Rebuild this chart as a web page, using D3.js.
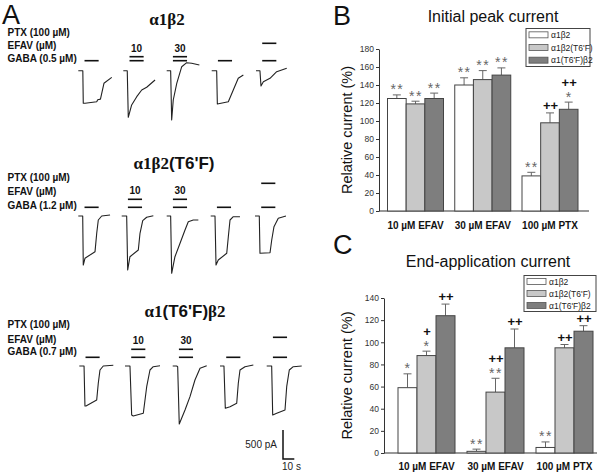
<!DOCTYPE html>
<html><head><meta charset="utf-8">
<script src="https://cdn.jsdelivr.net/npm/d3@7"></script>
<style>
html,body{margin:0;padding:0;background:#fff;}
svg{display:block;}
text{font-family:"Liberation Sans",Arial,sans-serif;}
</style></head><body>
<svg id="c" width="600" height="476"></svg>
<script>
// ---------- DATA ----------
const groups = ["10 µM EFAV", "30 µM EFAV", "100 µM PTX"];
const series = ["α1β2", "α1β2(T6'F)", "α1(T6'F)β2"];
const seriesFill = ["#ffffff", "#c8c8c8", "#7e7e7e"];
const peakTicks = [0, 20, 40, 60, 80, 100, 120, 140, 160, 180];
const peakMean = [[125, 119, 125], [140, 146, 151], [39, 98, 113]];
const peakSem  = [[4, 3, 6], [8, 10, 8], [4, 11, 8]];
const peakSig  = [[["**"], ["**"], ["**"]], [["**"], ["**"], ["**"]], [["**"], ["++"], ["++", "*"]]];
const endTicks = [0, 20, 40, 60, 80, 100, 120, 140];
const endMean  = [[59, 88, 124], [1.5, 55, 95], [5, 95, 110]];
const endSem   = [[12.5, 4, 10.5], [2, 12.5, 17], [5, 3, 5]];
const endSig   = [[["*"], ["+", "*"], ["++"]], [["**"], ["++", "**"], ["++"]], [["**"], ["++"], ["++"]]];

// Panel A : current traces, [time (s), current (pA)]
const rowTitles = [
  [["α1β2", "serif"]],
  [["α1β2", "serif"], ["(T6'F)", "sans"]],
  [["α1", "serif"], ["(T6'F)", "sans"], ["β2", "serif"]]
];
const gabaLabels = ["GABA (0.5 µM)", "GABA (1.2 µM)", "GABA (0.7 µM)"];
const efavConc = ["", "10", "30", "", ""];
const ptxApplied = [false, false, false, false, true];
const applyWindow = [5.5, 18]; // s
const tracesRow1 = [
  [[0,0],[4,0],[4.4,-560],[6,-560],[16.3,-534],[17.2,-500],[19.6,-490],[22.7,-217],[29.6,-114]],
  [[0,0],[3.5,0],[4.4,-803],[7.4,-591],[11.9,-448],[16.3,-333],[20.7,-286],[28.1,-160]],
  [[0,0],[3.5,0],[4.4,-850],[5.8,-505],[8.9,-217],[13.3,69],[17.7,138],[22.1,128],[28.9,98]],
  [[0,0],[4.4,0],[5,-574],[14.7,-534],[19.1,-333],[23.5,-131],[28,-74]],
  [[0,0],[3.5,0],[4.4,-264],[6.5,-190],[12.4,-131],[18.3,-17],[27.2,41]]
];
const tracesRow2 = [
  [[0,0],[3.9,0],[4.4,-845],[5.9,-729],[14.8,-615],[16.3,-298],[17.7,-69],[20.7,0],[28.1,17]],
  [[0,0],[4.4,0],[5.3,-931],[7.3,-702],[14.7,-586],[16.2,-298],[18.6,-81],[22.1,-22],[28,5]],
  [[0,0],[3.5,0],[4.4,-988],[7.3,-702],[11.8,-471],[16.2,-241],[19.1,-98],[23.5,-69],[28,-69]],
  [[0,0],[3.8,0],[4.7,-845],[6.7,-759],[14.2,-643],[15.6,-357],[17.1,-69],[20,-12],[25.9,-12]],
  [[0,0],[3.8,0],[4.4,-643],[13.3,-633],[14.8,-414],[16.8,-184],[20.6,-40],[27.4,0]]
];
const tracesRow3 = [
  [[0,0],[4.2,0],[5,-690],[5.9,-690],[15.4,-586],[16.8,-298],[18.3,-69],[21.2,0],[30.1,12]],
  [[0,0],[4.4,0],[5.9,-845],[7.3,-862],[16.2,-815],[19.2,-357],[22.1,-69],[25,-12],[31,5]],
  [[0,0],[3.5,0],[4.4,-12],[5.8,-1000],[10.9,-759],[15.3,-529],[19.7,-241],[24.2,-40],[30.1,5]],
  [[0,0],[3.5,0],[4.7,-729],[8.9,-702],[14.8,-643],[16.2,-298],[17.7,-69],[22.1,-12],[29.5,17]],
  [[0,0],[4.4,0],[5.3,-845],[8.9,-815],[16.2,-759],[17.7,-357],[20,-69],[23.5,-12],[31,0]]
];
const scaleBarPA = 500, scaleBarS = 10;

// ---------- DRAW ----------
const svg = d3.select("#c");
const SERIF = "'Liberation Serif','DejaVu Serif',serif";
const SANS = "'Liberation Sans',Arial,sans-serif";

// Panel letters
[["A", 2, 24], ["B", 333, 25], ["C", 333, 254]].forEach(([t, x, y]) =>
  svg.append("text").attr("x", x).attr("y", y).attr("font-size", 27).attr("fill", "#111").text(t));

// ---- Panel A ----
const tS = d3.scaleLinear().domain([0, 10]).range([0, 11.3]);
const iS = d3.scaleLinear().domain([0, -500]).range([0, 29]);
const rowLayout = [
  {base: 70.7, x0: [78.3, 123.3, 166.7, 211.7, 256], titleX: 167, titleY: 25,
   labY: [35.5, 48.5, 62], bar: {gaba: -10, efav: -14, ptx: -27.4}, data: tracesRow1},
  {base: 216, x0: [78.3, 121.7, 166.7, 210.7, 255], titleX: 174, titleY: 169,
   labY: [180.5, 194.5, 208.5], bar: {gaba: -8.7, efav: -16.7, ptx: -32.7}, data: tracesRow2},
  {base: 366, x0: [79.3, 125, 172.7, 220, 266.7], titleX: 185, titleY: 317,
   labY: [327.5, 343, 354.5], bar: {gaba: -8.7, efav: -16.7, ptx: -28.7}, data: tracesRow3}
];
const line = d3.line();
rowLayout.forEach((r, ri) => {
  const g = svg.append("g");
  const tt = g.append("text").attr("x", r.titleX).attr("y", r.titleY).attr("text-anchor", "middle")
    .attr("font-size", 17).attr("font-weight", "bold").attr("fill", "#111");
  rowTitles[ri].forEach(([s, f]) => tt.append("tspan").attr("font-family", f === "serif" ? SERIF : SANS).text(s));
  [["PTX (100 µM)"], ["EFAV (µM)"], [gabaLabels[ri]]].forEach(([s], li) =>
    g.append("text").attr("x", 7.5).attr("y", r.labY[li]).attr("font-size", 10).attr("font-weight", "bold")
      .attr("fill", "#111").text(s));
  r.data.forEach((tr, ti) => {
    const x0 = r.x0[ti];
    g.append("path").attr("d", line(tr.map(d => [x0 + tS(d[0]), r.base + iS(d[1])])))
      .attr("fill", "none").attr("stroke", "#222").attr("stroke-width", 1.1).attr("stroke-linejoin", "round");
    const bx1 = x0 + tS(applyWindow[0]), bx2 = x0 + tS(applyWindow[1]);
    const bars = [r.bar.gaba];
    if (efavConc[ti]) bars.push(r.bar.efav);
    if (ptxApplied[ti]) bars.push(r.bar.ptx);
    bars.forEach(dy => g.append("line").attr("x1", bx1).attr("x2", bx2)
      .attr("y1", r.base + dy).attr("y2", r.base + dy).attr("stroke", "#111").attr("stroke-width", 1.6));
    if (efavConc[ti]) g.append("text").attr("x", (bx1 + bx2) / 2).attr("y", r.base + r.bar.efav - 5)
      .attr("text-anchor", "middle").attr("font-size", 10).attr("font-weight", "bold").attr("fill", "#111").text(efavConc[ti]);
  });
});
// scale bar
{
  const sx = 283, sy = 459;
  svg.append("path").attr("d", line([[sx, sy - iS(-scaleBarPA)], [sx, sy], [sx + tS(scaleBarS), sy]]))
    .attr("fill", "none").attr("stroke", "#111").attr("stroke-width", 1.5);
  svg.append("text").attr("x", 277).attr("y", 448).attr("text-anchor", "end").attr("font-size", 10)
    .attr("fill", "#222").text(scaleBarPA + " pA");
  svg.append("text").attr("x", 282).attr("y", 470).attr("font-size", 10).attr("fill", "#222").text(scaleBarS + " s");
}

// ---- Bar panels ----
function barPanel(o) {
  const g = svg.append("g");
  const y = d3.scaleLinear().domain([0, o.ticks[o.ticks.length - 1]]).range([o.y0, o.y1]);
  const xc = d3.scalePoint().domain(groups).range(o.centers);
  const xs = d3.scaleBand().domain(series).range([-o.gw / 2, o.gw / 2]);
  // title
  g.append("text").attr("x", o.titleX).attr("y", o.titleY).attr("text-anchor", "middle")
    .attr("font-size", 16).attr("fill", "#111").text(o.title);
  // y axis
  const ax = g.append("g").attr("transform", `translate(${o.ax},0)`)
    .call(d3.axisLeft(y).tickValues(o.ticks).tickSize(3).tickSizeOuter(0).tickPadding(2));
  ax.selectAll("path,line").attr("stroke", "#333");
  ax.selectAll("text").attr("font-size", 8.5).attr("fill", "#333").attr("font-family", SANS);
  g.append("text").attr("transform", `translate(${o.ytX},${(o.y0 + o.y1) / 2}) rotate(-90)`)
    .attr("text-anchor", "middle").attr("font-size", 14.5).attr("fill", "#111").text("Relative current (%)");
  // x axis
  g.append("line").attr("x1", o.ax).attr("x2", o.axEnd).attr("y1", o.y0).attr("y2", o.y0)
    .attr("stroke", "#333").attr("stroke-width", 1.2);
  groups.forEach((grp, gi) => {
    g.append("text").attr("x", xc(grp)).attr("y", o.labY).attr("text-anchor", "middle")
      .attr("font-size", 10).attr("font-weight", "bold").attr("fill", "#111").text(grp);
    series.forEach((s, si) => {
      const v = o.mean[gi][si], e = o.sem[gi][si];
      const bx = xc(grp) + xs(s), bw = xs.bandwidth(), cx = bx + bw / 2;
      const yt = y(v + e);
      g.append("line").attr("x1", cx).attr("x2", cx).attr("y1", y(v)).attr("y2", yt)
        .attr("stroke", "#666").attr("stroke-width", 1);
      g.append("line").attr("x1", cx - 4).attr("x2", cx + 4).attr("y1", yt).attr("y2", yt)
        .attr("stroke", "#666").attr("stroke-width", 1);
      g.append("rect").attr("x", bx).attr("y", y(v)).attr("width", bw).attr("height", o.y0 - y(v))
        .attr("fill", seriesFill[si]).attr("stroke", "#444").attr("stroke-width", 1);
      const sig = o.sig[gi][si], n = sig.length;
      let base = null;
      for (let k = n - 1; k >= 0; k--) {
        const str = sig[k];
        const isPlus = str[0] === "+";
        if (base === null) base = isPlus ? yt - 3 : yt - 0.5;
        g.append("text").attr("x", cx + 0.5).attr("y", base).attr("text-anchor", "middle")
          .attr("font-size", isPlus ? 13 : 14).attr("letter-spacing", isPlus ? 0 : 1.5)
          .attr("font-weight", isPlus ? "bold" : "normal")
          .attr("fill", isPlus ? "#111" : "#666").text(str);
        base -= isPlus ? 12 : 15;
      }
    });
  });
  // legend
  const L = o.leg;
  g.append("rect").attr("x", L.x).attr("y", L.y).attr("width", L.w).attr("height", L.h)
    .attr("fill", "#fff").attr("stroke", "#444").attr("stroke-width", 1);
  series.forEach((s, si) => {
    const cy = L.y + L.h * (si + 0.5) / 3;
    g.append("rect").attr("x", L.x + 3).attr("y", cy - 3).attr("width", 19).attr("height", 6)
      .attr("fill", seriesFill[si]).attr("stroke", "#555").attr("stroke-width", 0.8);
    g.append("text").attr("x", L.x + 25).attr("y", cy + 3).attr("font-size", 8.5)
      .attr("font-family", SERIF).attr("fill", "#222").text(s);
  });
}

barPanel({title: "Initial peak current", titleX: 493, titleY: 22, ticks: peakTicks,
  y0: 211, y1: 49, ax: 379, axEnd: 589, centers: [415.5, 550], gw: 56, ytX: 352, labY: 229,
  mean: peakMean, sem: peakSem, sig: peakSig, leg: {x: 526, y: 28.5, w: 64, h: 38}});
barPanel({title: "End-application current", titleX: 488, titleY: 267, ticks: endTicks,
  y0: 453, y1: 298, ax: 384, axEnd: 597, centers: [426.5, 564.5], gw: 57, ytX: 352, labY: 470,
  mean: endMean, sem: endSem, sig: endSig, leg: {x: 524, y: 275.5, w: 72, h: 36}});
</script></body></html>
